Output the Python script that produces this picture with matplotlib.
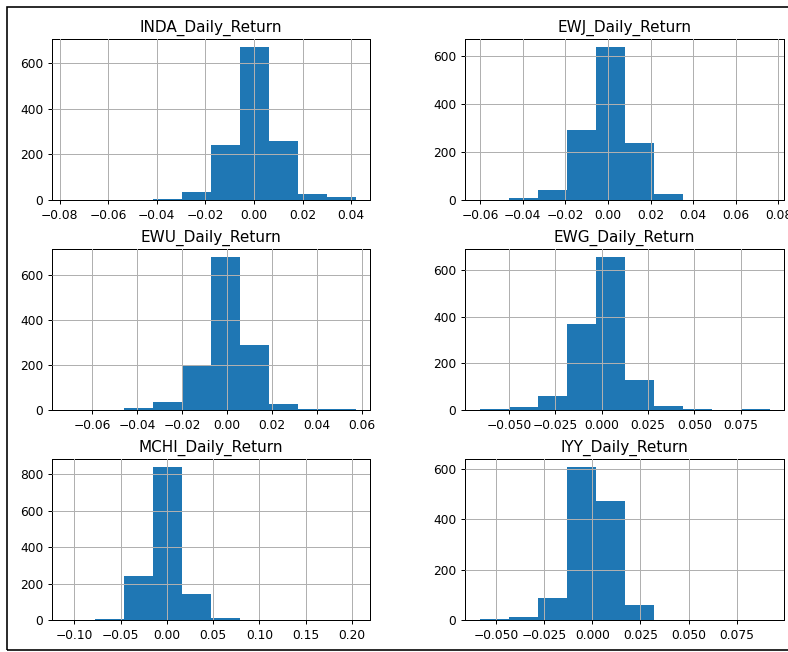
import matplotlib
matplotlib.use("Agg")
import matplotlib.pyplot as plt
from matplotlib.patches import Rectangle
from matplotlib.ticker import MultipleLocator
import numpy as np

# column names of the daily return frame
columns = ["INDA_Daily_Return", "EWJ_Daily_Return",
           "EWU_Daily_Return", "EWG_Daily_Return",
           "MCHI_Daily_Return", "IYY_Daily_Return"]

# min / max of each return series (10 equal bins in between)
ret_min = [-0.0772, -0.0603, -0.0714, -0.0658, -0.1085, -0.0585]
ret_max = [0.0418, 0.0758, 0.0573, 0.0905, 0.2038, 0.0920]

# counts per bin
inda_counts = [1, 0, 0, 6, 35, 240, 673, 257, 28, 12]
ewj_counts = [1, 8, 42, 292, 641, 237, 25, 0, 0, 1]
ewu_counts = [1, 0, 10, 34, 199, 683, 288, 27, 5, 5]
ewg_counts = [5, 13, 61, 368, 658, 130, 17, 4, 0, 3]
mchi_counts = [1, 5, 244, 842, 142, 11, 0, 0, 0, 1]
iyy_counts = [5, 13, 87, 609, 471, 58, 0, 0, 0, 1]

all_counts = [inda_counts, ewj_counts, ewu_counts, ewg_counts, mchi_counts, iyy_counts]

# tick spacing on the return axis
x_steps = [0.02, 0.02, 0.02, 0.025, 0.05, 0.025]

W, H = 788, 652
DPI = 90
fig = plt.figure(figsize=(W / DPI, H / DPI), dpi=DPI)

# axes boxes in pixels
lefts = [52, 465]
rights = [370, 784]
tops = [39, 249, 459]
bottoms = [200, 410, 620]

for i, name in enumerate(columns):
    r, c = divmod(i, 2)
    x0, x1 = lefts[c], rights[c]
    y0, y1 = tops[r], bottoms[r]
    ax = fig.add_axes([x0 / W, 1 - y1 / H, (x1 - x0) / W, (y1 - y0) / H])
    edges = np.linspace(ret_min[i], ret_max[i], 11)
    ax.hist(edges[:-1], bins=edges, weights=all_counts[i], color="#1f77b4")
    ax.set_title(name, fontsize=12.2)
    ax.grid(True)
    ax.set_axisbelow(False)
    ax.xaxis.set_major_locator(MultipleLocator(x_steps[i]))
    ax.yaxis.set_major_locator(MultipleLocator(200))
    ax.tick_params(labelsize=9.8)

# frame around the whole figure
fig.patches.append(Rectangle((7 / W, 2 / H), (W + 10) / W, (H - 9) / H,
                             transform=fig.transFigure, fill=False,
                             edgecolor="black", linewidth=1.3))

fig.savefig("out.png", dpi=DPI)
